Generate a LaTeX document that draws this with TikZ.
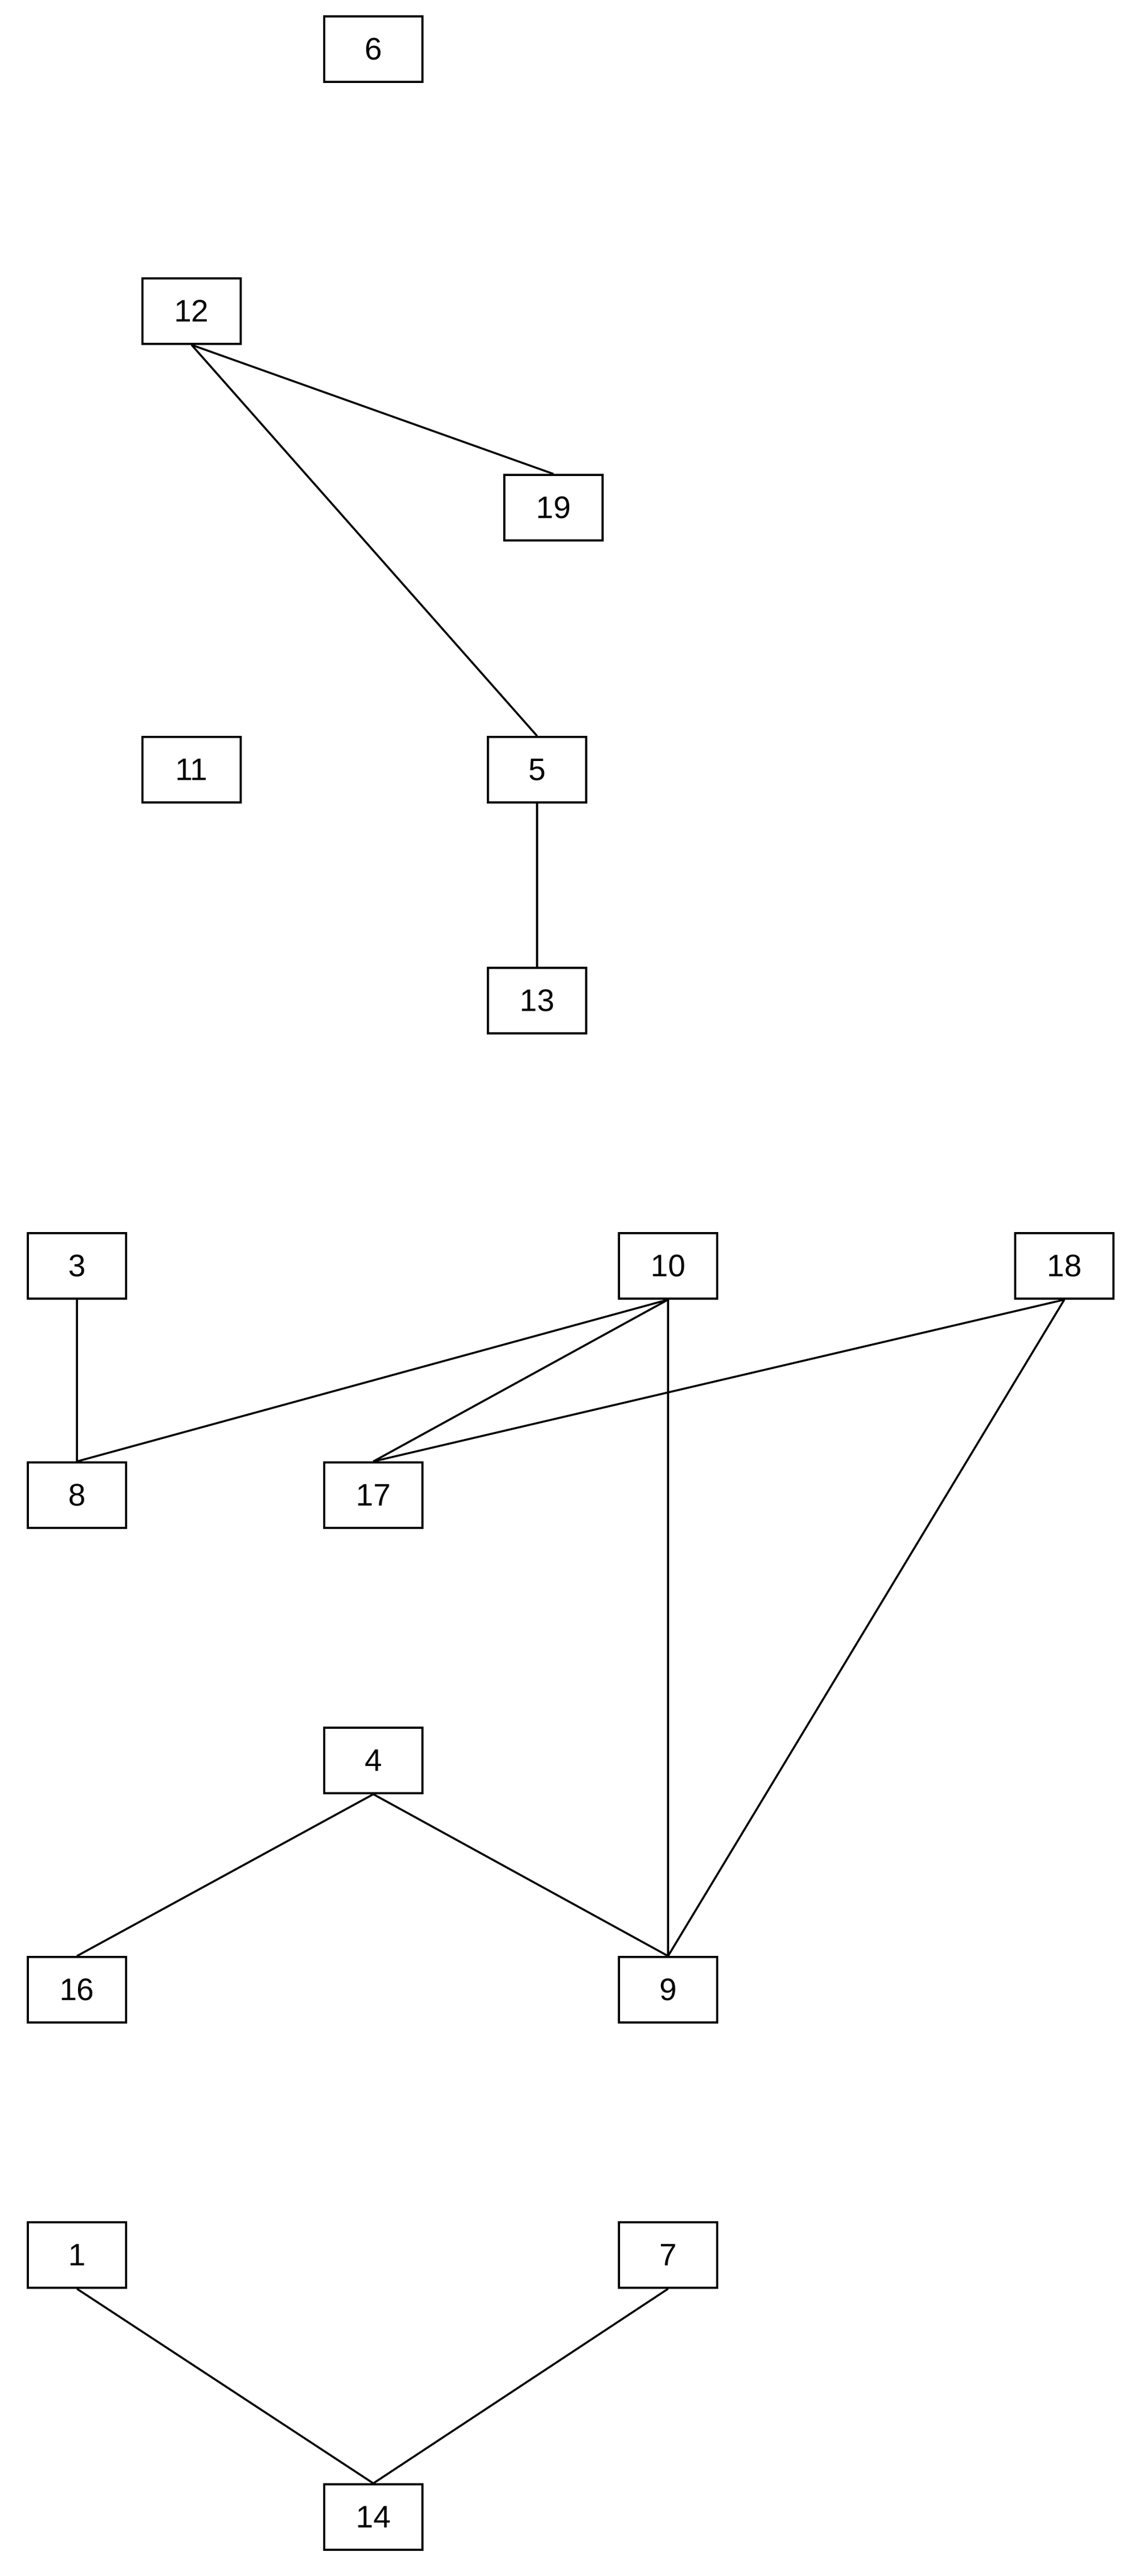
\documentclass[tikz,border=0pt]{standalone}
\usepackage{fontspec}
\setmainfont{Liberation Sans}
\begin{document}
\begin{tikzpicture}[x=1pt,y=-1pt,
  box/.style={draw,line width=1.2pt,minimum width=60pt,minimum height=40pt,inner sep=0pt,font=\fontsize{19}{22}\selectfont},
  e/.style={line width=1.2pt}]
\useasboundingbox (0,0) rectangle (691,1573);
\node[box] (n6) at (228,30) {6};
\node[box] (n12) at (117,190) {12};
\node[box] (n19) at (338,310) {19};
\node[box] (n11) at (117,470) {11};
\node[box] (n5) at (328,470) {5};
\node[box] (n13) at (328,611) {13};
\node[box] (n3) at (47,773) {3};
\node[box] (n10) at (408,773) {10};
\node[box] (n18) at (650,773) {18};
\node[box] (n8) at (47,913) {8};
\node[box] (n17) at (228,913) {17};
\node[box] (n4) at (228,1075) {4};
\node[box] (n16) at (47,1215) {16};
\node[box] (n9) at (408,1215) {9};
\node[box] (n1) at (47,1377) {1};
\node[box] (n7) at (408,1377) {7};
\node[box] (n14) at (228,1537) {14};
\draw[e] (n12.south) -- (n19.north);
\draw[e] (n12.south) -- (n5.north);
\draw[e] (n5.south) -- (n13.north);
\draw[e] (n3.south) -- (n8.north);
\draw[e] (n10.south) -- (n8.north);
\draw[e] (n10.south) -- (n17.north);
\draw[e] (n18.south) -- (n17.north);
\draw[e] (n10.south) -- (n9.north);
\draw[e] (n18.south) -- (n9.north);
\draw[e] (n4.south) -- (n16.north);
\draw[e] (n4.south) -- (n9.north);
\draw[e] (n1.south) -- (n14.north);
\draw[e] (n7.south) -- (n14.north);
\end{tikzpicture}
\end{document}
